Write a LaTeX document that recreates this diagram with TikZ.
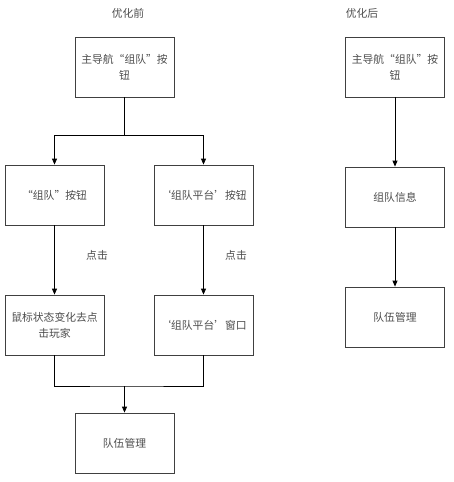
\documentclass[tikz,border=0pt]{standalone}
\usepackage{fontspec}
\setmainfont{Noto Sans CJK SC}
\usetikzlibrary{arrows.meta}

\begin{document}
\begin{tikzpicture}[x=1pt,y=-1pt,>={Triangle[width=5pt,length=6pt]},
 font=\fontsize{10.8}{16}\selectfont,
 stepbox/.style={draw=black!75,line width=.8pt,minimum width=99pt,minimum height=60pt,
  inner sep=0pt,align=center,text=black!70},
 lbl/.style={text=black!70,inner sep=1pt},
 conn/.style={black,line width=.8pt}]
\useasboundingbox (0,0) rectangle (453,482);
% before
\node[lbl] (titleA) at (128,13) {优化前};
\node[stepbox] (navA) at (124.5,67) {主导航“组队”按\\钮};
\node[stepbox] (btnTeam) at (54.5,195) {“组队”按钮};
\node[stepbox] (btnPlat) at (203.5,195) {‘组队平台’按钮};
\node[stepbox] (mouse) at (54.5,325) {鼠标状态变化去点\\击玩家};
\node[stepbox] (winPlat) at (203.5,325) {‘组队平台’窗口};
\node[stepbox] (teamA) at (124.5,443) {队伍管理};
\node[lbl] (clickA) at (97,255) {点击};
\node[lbl] (clickB) at (236,255) {点击};
\coordinate (fork) at (124.5,135);
\coordinate (join) at (124.5,386);
\draw[conn] (navA.south) -- (fork);
\draw[conn,->] (fork) -| (btnTeam.north);
\draw[conn,->] (fork) -| (btnPlat.north);
\draw[conn,->] (btnTeam) -- (mouse);
\draw[conn,->] (btnPlat) -- (winPlat);
\draw[conn] (mouse.south) |- (join) -| (winPlat.south);
\draw[conn,->] (join) -- (teamA.north);
% after
\node[lbl] (titleB) at (362,13) {优化后};
\node[stepbox] (navB) at (395,67) {主导航“组队”按\\钮};
\node[stepbox] (info) at (395,197) {组队信息};
\node[stepbox] (teamB) at (395,317) {队伍管理};
\draw[conn,->] (navB) -- (info);
\draw[conn,->] (info) -- (teamB);
\end{tikzpicture}
\end{document}
